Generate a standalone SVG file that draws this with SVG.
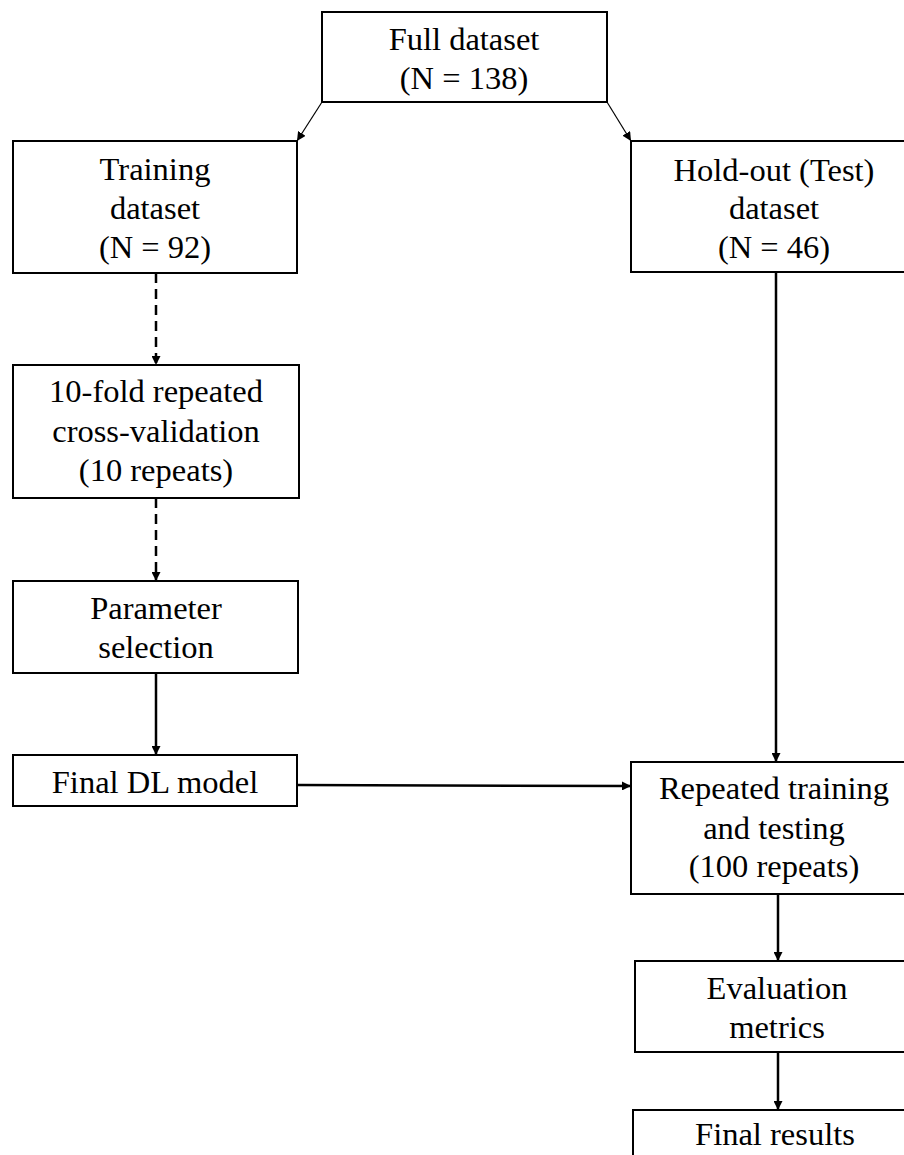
<svg xmlns="http://www.w3.org/2000/svg" width="904" height="1155" viewBox="0 0 904 1155">
<style>
.box{fill:#fff;stroke:#000;stroke-width:2}
.t{font-family:'Liberation Serif','Times New Roman',serif;font-size:32.5px;fill:#000;text-anchor:middle}
.c{fill:none;stroke:#000;stroke-width:2.5}
.d{fill:none;stroke:#000;stroke-width:2.5;stroke-dasharray:10,6}
.thin{fill:none;stroke:#000;stroke-width:1.2}
</style>
<defs>
<marker id="ah" viewBox="0 0 10 10" refX="10" refY="5" markerWidth="9" markerHeight="9" markerUnits="userSpaceOnUse" orient="auto">
<path d="M0,0 L10,5 L0,10 z" fill="#000"/>
</marker>
</defs>
<rect width="904" height="1155" fill="#fff"/>
<g id="connectors">
<line class="thin" x1="322" y1="102" x2="297" y2="141" marker-end="url(#ah)"/>
<line class="thin" x1="607" y1="102" x2="631" y2="141" marker-end="url(#ah)"/>
<line class="d" x1="156" y1="273" x2="156" y2="365" marker-end="url(#ah)"/>
<line class="d" x1="156" y1="498" x2="156" y2="581" marker-end="url(#ah)"/>
<line class="c" x1="156" y1="673" x2="156" y2="755" marker-end="url(#ah)"/>
<line class="c" x1="776" y1="272" x2="776" y2="762" marker-end="url(#ah)"/>
<line class="c" x1="297" y1="785" x2="631" y2="786" marker-end="url(#ah)"/>
<line class="c" x1="778" y1="894" x2="778" y2="961" marker-end="url(#ah)"/>
<line class="c" x1="778" y1="1052" x2="778" y2="1110" marker-end="url(#ah)"/>
</g>
<g id="full">
<rect class="box" x="322" y="12" width="285" height="90"/>
<text class="t" x="464" y="50">Full dataset</text>
<text class="t" x="464" y="89">(N = 138)</text>
</g>
<g id="training">
<rect class="box" x="13" y="141" width="284" height="132"/>
<text class="t" x="155" y="180">Training</text>
<text class="t" x="155" y="219">dataset</text>
<text class="t" x="155" y="258">(N = 92)</text>
</g>
<g id="holdout">
<rect class="box" x="631" y="141" width="290" height="131"/>
<text class="t" x="774" y="181">Hold-out (Test)</text>
<text class="t" x="774" y="219">dataset</text>
<text class="t" x="774" y="258">(N = 46)</text>
</g>
<g id="cv">
<rect class="box" x="13" y="365" width="286" height="133"/>
<text class="t" x="156" y="402">10-fold repeated</text>
<text class="t" x="156" y="442">cross-validation</text>
<text class="t" x="156" y="481">(10 repeats)</text>
</g>
<g id="param">
<rect class="box" x="13" y="581" width="285" height="92"/>
<text class="t" x="156" y="619">Parameter</text>
<text class="t" x="156" y="658">selection</text>
</g>
<g id="finaldl">
<rect class="box" x="13" y="755" width="284" height="51"/>
<text class="t" x="155" y="793">Final DL model</text>
</g>
<g id="repeated">
<rect class="box" x="631" y="762" width="290" height="132"/>
<text class="t" x="774" y="799">Repeated training</text>
<text class="t" x="774" y="839">and testing</text>
<text class="t" x="774" y="877">(100 repeats)</text>
</g>
<g id="eval">
<rect class="box" x="635" y="961" width="290" height="91"/>
<text class="t" x="777" y="999">Evaluation</text>
<text class="t" x="777" y="1038">metrics</text>
</g>
<g id="final">
<rect class="box" x="633" y="1110" width="290" height="60"/>
<text class="t" x="775" y="1145">Final results</text>
</g>
</svg>
